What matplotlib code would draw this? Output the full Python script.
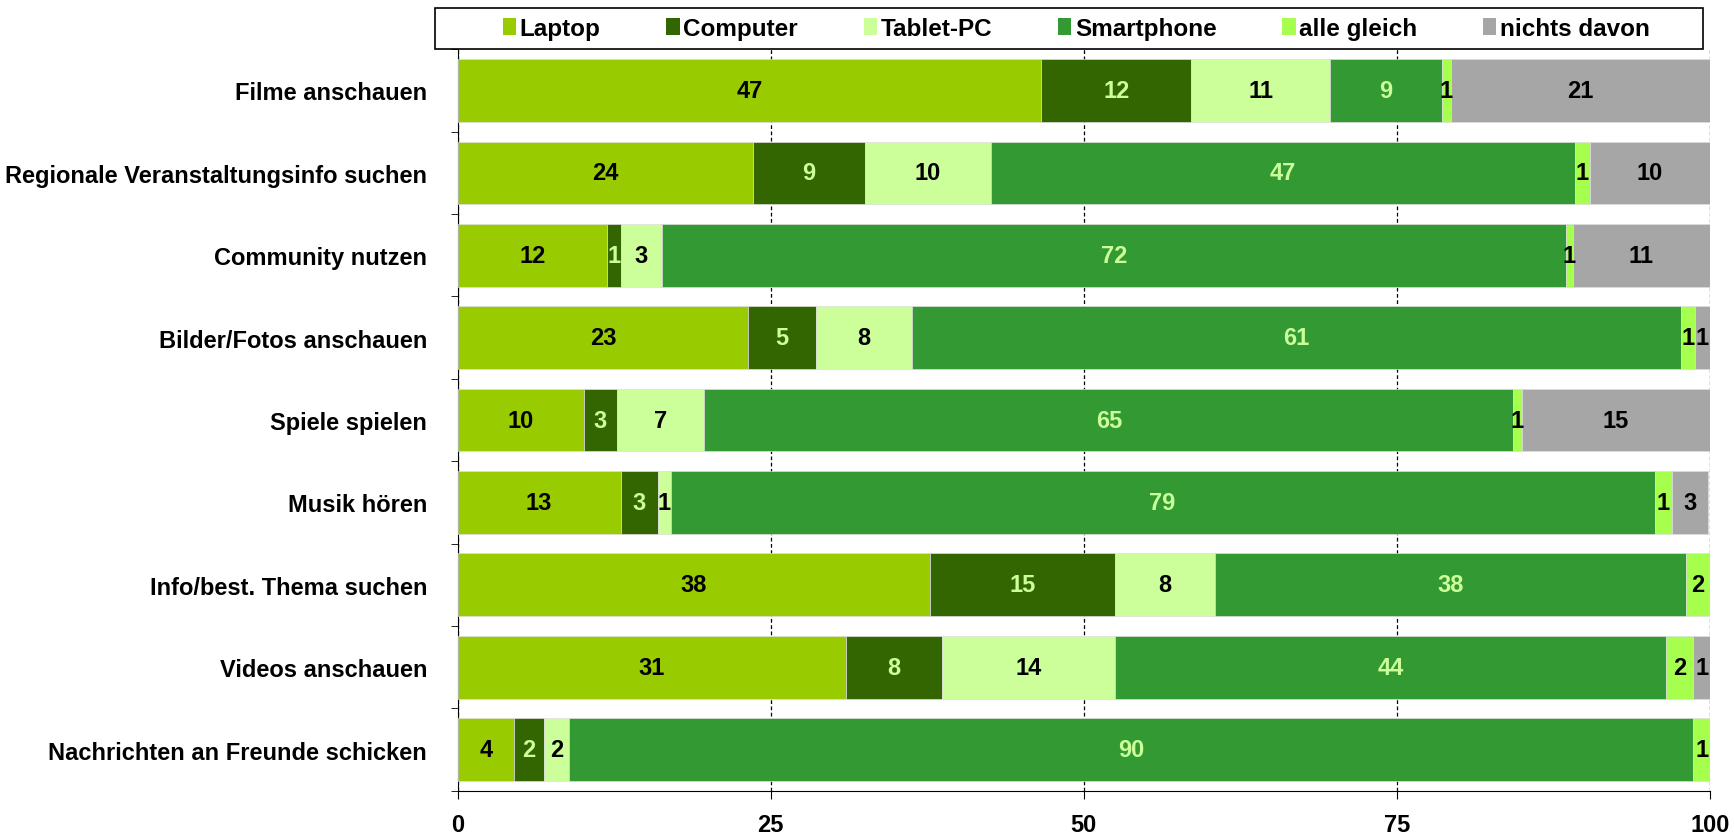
import matplotlib.pyplot as plt
from matplotlib.patches import Rectangle
import numpy as np

plt.rcParams['font.family'] = ['Liberation Sans', 'DejaVu Sans']
plt.rcParams['font.weight'] = 'bold'

categories = ['Filme anschauen', 'Regionale Veranstaltungsinfo suchen', 'Community nutzen',
              'Bilder/Fotos anschauen', 'Spiele spielen', 'Musik hören',
              'Info/best. Thema suchen', 'Videos anschauen', 'Nachrichten an Freunde schicken']
series = ['Laptop', 'Computer', 'Tablet-PC', 'Smartphone', 'alle gleich', 'nichts davon']

laptop     = [46.6, 23.6, 11.9, 23.2, 10.1, 13.0, 37.7, 31.0, 4.5]
computer   = [12.0, 8.9, 1.1, 5.4, 2.6, 3.0, 14.8, 7.7, 2.4]
tablet     = [11.1, 10.1, 3.3, 7.7, 7.0, 1.0, 8.0, 13.8, 2.0]
smartphone = [8.9, 46.6, 72.2, 61.4, 64.6, 78.6, 37.6, 44.0, 89.8]
alle       = [0.7, 1.2, 0.6, 1.1, 0.7, 1.4, 1.9, 2.2, 1.3]
nichts     = [20.7, 9.6, 10.9, 1.2, 15.0, 2.9, 0.0, 1.3, 0.0]

data = [laptop, computer, tablet, smartphone, alle, nichts]
colors = ['#99cc00', '#336600', '#ccff99', '#339933', '#a6ff4d', '#a6a6a6']
text_colors = ['black', '#ccff99', 'black', '#ccff99', 'black', 'black']

fig = plt.figure(figsize=(17.34, 8.37), dpi=100)
ax = fig.add_axes([0.264, 0.054, 0.722, 0.886])

y = np.arange(len(categories))
left = np.zeros(len(categories))
for vals, col, tcol, name in zip(data, colors, text_colors, series):
    vals = np.array(vals)
    ax.barh(y, vals, left=left, height=0.76, color=col, label=name,
            edgecolor='#dddddd', linewidth=0.5, zorder=3)
    for yi, (l, v) in enumerate(zip(left, vals)):
        if v > 0:
            ax.text(l + v / 2, yi, '%.0f' % v, ha='center', va='center',
                    color=tcol, fontsize=17, fontweight='bold', zorder=4)
    left += vals

ax.set_xlim(0, 100)
ax.set_ylim(len(categories) - 0.5, -0.5)
ax.set_xticks([0, 25, 50, 75, 100])
ax.tick_params(axis='x', labelsize=17, length=6, direction='out', pad=10)
ax.set_yticks(y)
ax.set_yticklabels(categories, fontsize=17)
ax.set_yticks(np.arange(-0.5, len(categories), 1), minor=True)
ax.tick_params(axis='y', which='major', length=0, pad=22)
ax.tick_params(axis='y', which='minor', length=5, direction='out')
ax.grid(axis='x', color='black', linestyle=(0, (3, 2)), linewidth=0.9, zorder=0)
ax.spines['top'].set_visible(False)
ax.spines['right'].set_visible(False)

# legend without its own frame, framed by a box like the original
leg = ax.legend(ncol=6, loc='center left', bbox_to_anchor=(0.036, 1.028),
                fontsize=17.5, frameon=False, borderpad=0, borderaxespad=0,
                handlelength=0.55, handleheight=0.65, handletextpad=0.15,
                columnspacing=2.7)
for h in leg.legend_handles:
    h.set_edgecolor('none')
ax.add_patch(Rectangle((-0.018, 1.0), 1.0126, 0.0556, transform=ax.transAxes,
                       facecolor='none', edgecolor='black', linewidth=1.2,
                       clip_on=False, zorder=5))

fig.savefig('out.png', dpi=100)
